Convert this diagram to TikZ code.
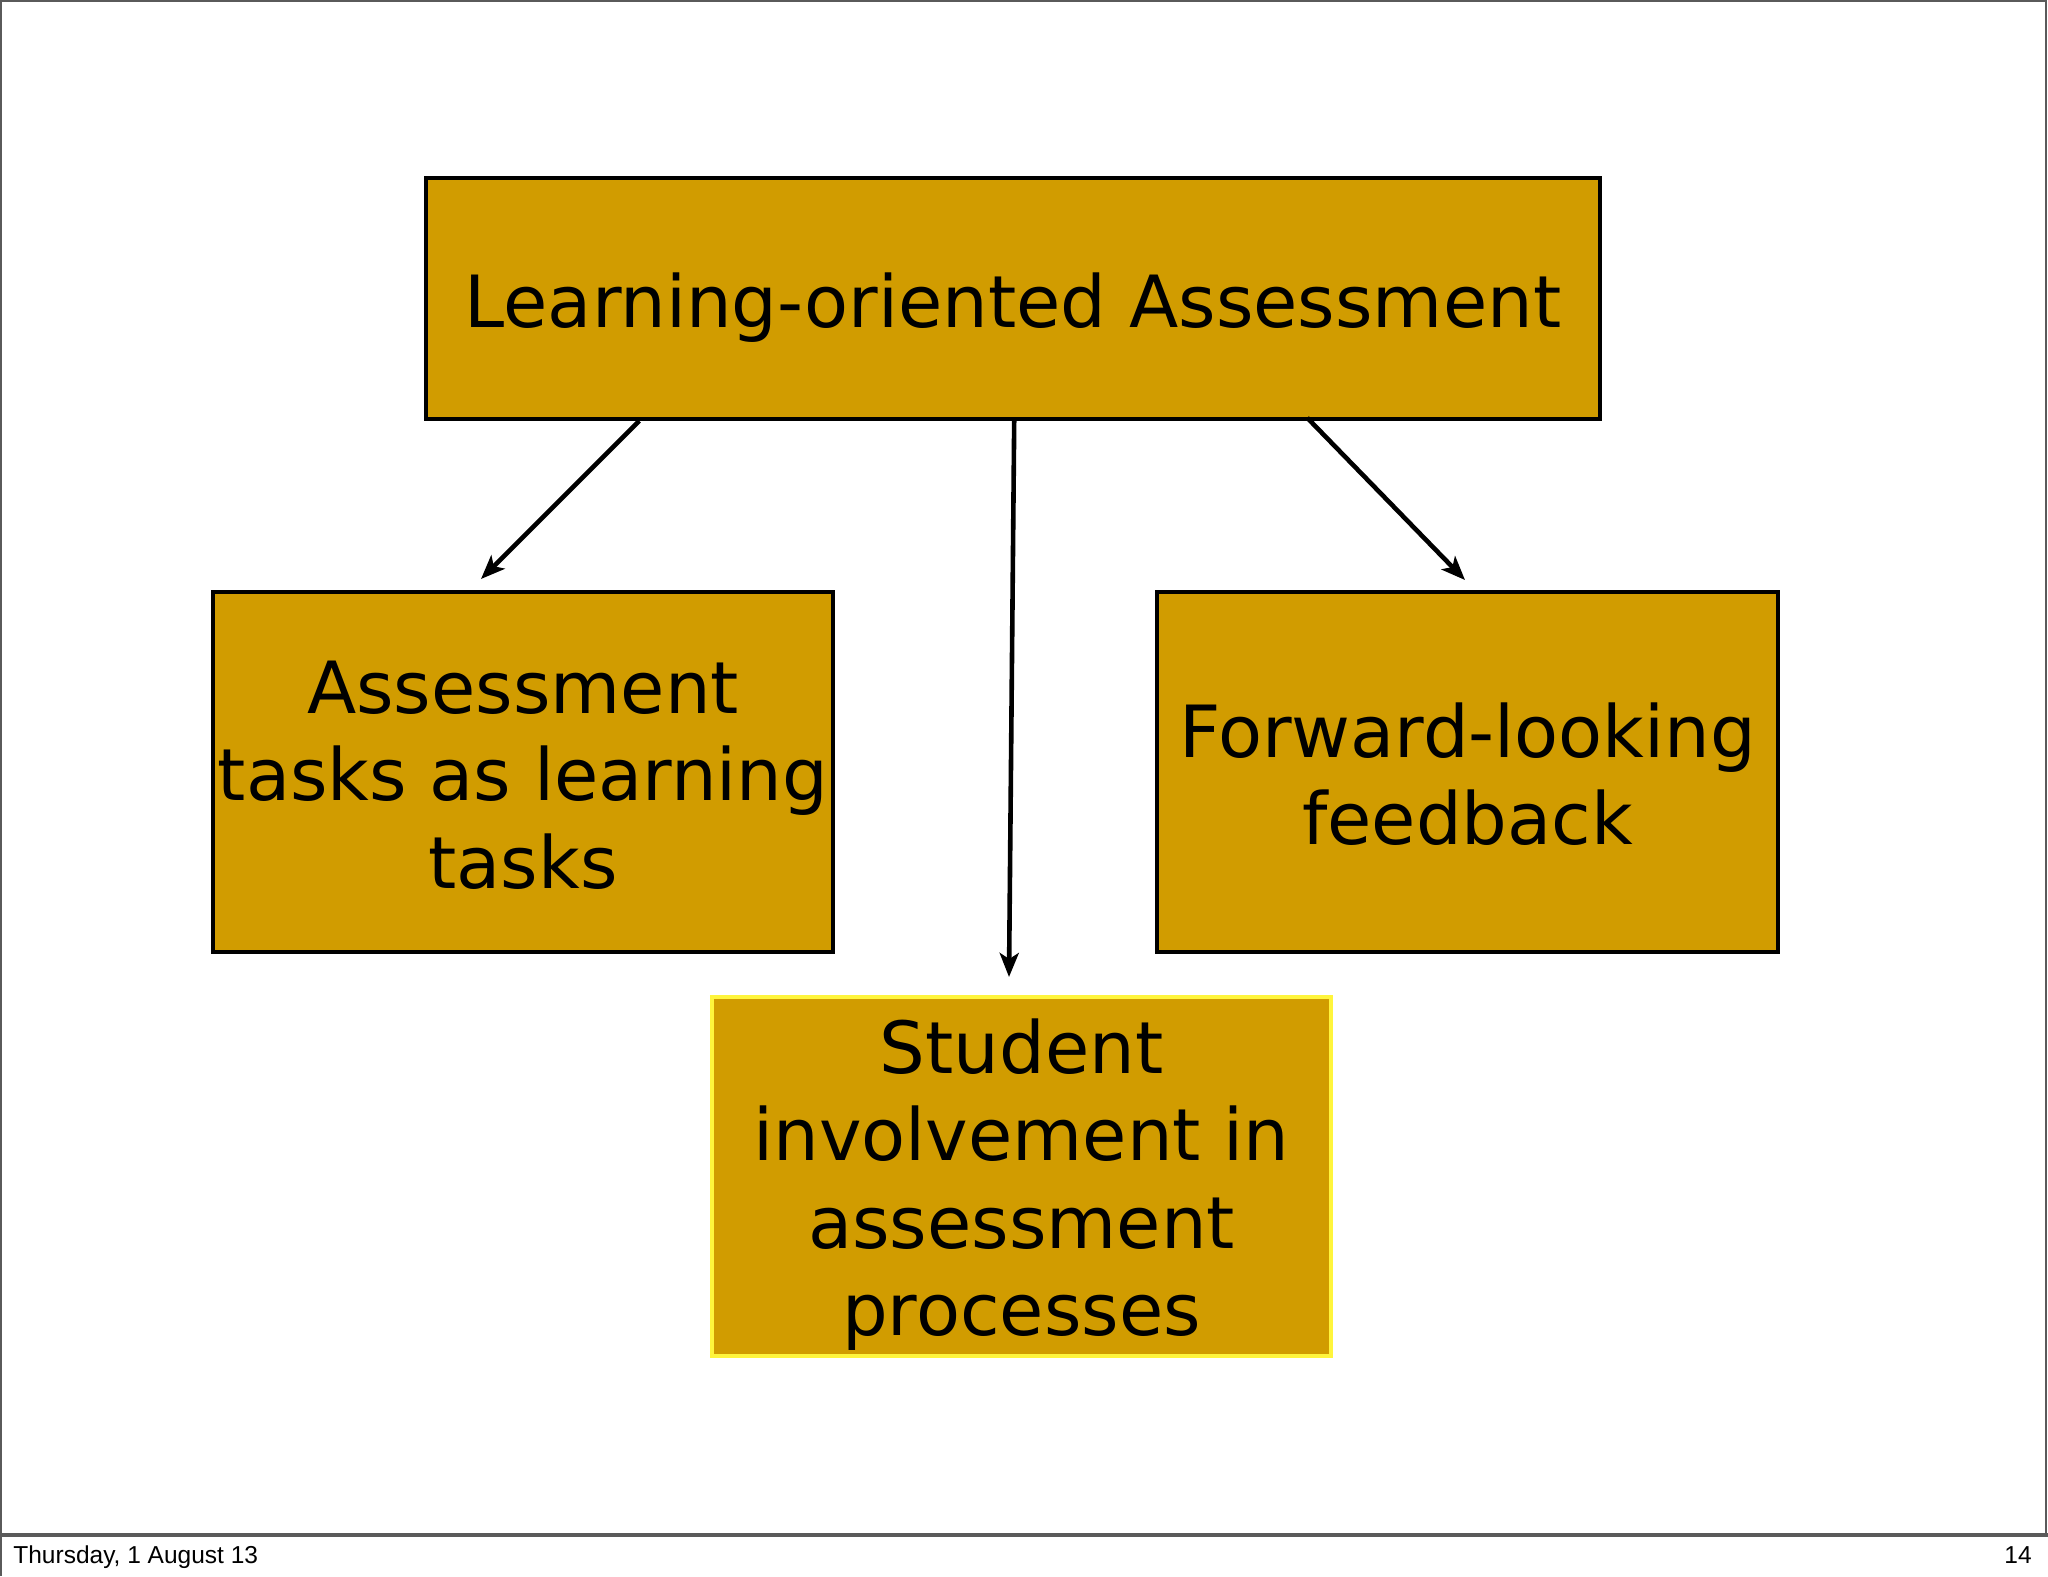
\documentclass[tikz,border=0pt]{standalone}
\usepackage{fontspec}
\setmainfont{DejaVu Sans}
\newfontfamily\footfont{Liberation Sans}
\usetikzlibrary{arrows.meta}
\definecolor{gold}{RGB}{209,156,0}
\definecolor{ybord}{RGB}{255,245,60}
\definecolor{framegray}{RGB}{90,90,90}
\tikzset{
  box/.style={draw=black, line width=1.8pt, fill=gold, inner sep=0pt},
  txt/.style={inner sep=0pt, align=center, font=\fontsize{36pt}{43.7pt}\selectfont},
  arr/.style={line width=2.3pt, -{Stealth[length=12pt,width=9.5pt,inset=3pt]}},
  foot/.style={font=\footfont\fontsize{12.25pt}{14pt}\selectfont, inner sep=0pt}
}
\begin{document}
\begin{tikzpicture}[x=0.5pt,y=-0.5pt]
\useasboundingbox (0,0) rectangle (2048,1576);
\fill[white] (0,0) rectangle (2048,1576);
\draw[framegray, line width=1pt] (1,1576) -- (1,1) -- (2046,1) -- (2046,1535);
\draw[framegray, line width=1.6pt] (0,1535) -- (2048,1535);
\node[foot, anchor=base west] (date) at (13,1563) {Thursday, 1 August 13};
\node[foot, anchor=base east] (page) at (2032,1563) {14};

\node[box, minimum width=587pt, minimum height=120.5pt] (top) at (1013,298.5) {};
\node[box, minimum width=310pt, minimum height=180pt] (left) at (523,772) {};
\node[box, minimum width=310.5pt, minimum height=180pt] (right) at (1467.5,772) {};
\node[box, draw=ybord, line width=2pt, minimum width=309.5pt, minimum height=179.5pt] (bottom) at (1021.5,1176.5) {};

\node[txt] (toptext) at ([yshift=-4.5pt]top.center) {Learning-oriented Assessment};
\node[txt] (lefttext) at ([yshift=-1.5pt]left.center) {Assessment\\tasks as learning\\tasks};
\node[txt] (righttext) at ([yshift=-1pt]right.center) {Forward-looking\\feedback};
\node[txt] (bottomtext) at ([yshift=-4pt]bottom.center) {Student\\involvement in\\assessment\\processes};

\coordinate (lend) at (481,579);
\coordinate (mend) at (1009,977);
\coordinate (rend) at (1465,580);
\draw[arr] ([xshift=107.5pt]top.south west) -- (lend);
\draw[arr] ([xshift=295pt]top.south west) -- (mend);
\draw[arr] ([xshift=441.5pt,yshift=1.5pt]top.south west) -- (rend);
\end{tikzpicture}
\end{document}
